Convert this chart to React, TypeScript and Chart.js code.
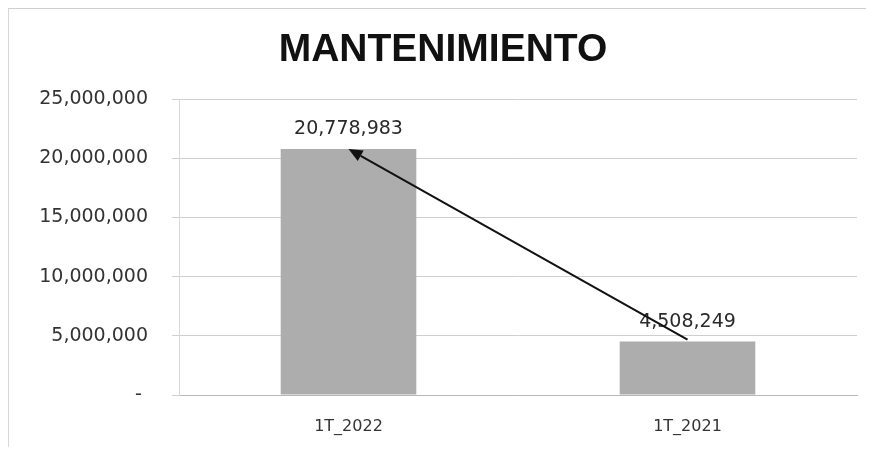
import React, { useEffect, useRef } from "react";
import { Chart, registerables } from "chart.js";

Chart.register(...registerables);

const categories = ["1T_2022", "1T_2021"];
const values = [20778983, 4508249];
const yMin = 0;
const yMax = 25000000;
const yStep = 5000000;
const titleText = "MANTENIMIENTO";

const fmt = (v: number) => v.toLocaleString("en-US");

const labelsAndArrow = {
  id: "labelsAndArrow",
  afterDatasetsDraw(chart: any) {
    const ctx = chart.ctx;
    const meta = chart.getDatasetMeta(0);
    ctx.save();
    // title
    ctx.font = "bold 39px 'Liberation Sans'";
    ctx.fillStyle = "#111";
    ctx.textAlign = "center";
    ctx.textBaseline = "middle";
    ctx.fillText(titleText, 434, 41);
    // data labels
    ctx.font = "19px 'DejaVu Sans'";
    ctx.fillStyle = "#2a2a2a";
    ctx.textAlign = "center";
    ctx.textBaseline = "bottom";
    meta.data.forEach((bar: any, i: number) => {
      ctx.fillText(fmt(values[i]), bar.x, bar.y - 10);
    });
    // arrow from second bar top to first bar top
    const a = meta.data[1];
    const b = meta.data[0];
    const x0 = a.x, y0 = a.y - 2;
    const x1 = b.x, y1 = b.y;
    const ang = Math.atan2(y1 - y0, x1 - x0);
    const len = 14, half = 6;
    const bx = x1 - len * Math.cos(ang);
    const by = y1 - len * Math.sin(ang);
    ctx.strokeStyle = "#111";
    ctx.fillStyle = "#111";
    ctx.lineWidth = 2;
    ctx.beginPath();
    ctx.moveTo(x0, y0);
    ctx.lineTo(bx, by);
    ctx.stroke();
    ctx.beginPath();
    ctx.moveTo(x1, y1);
    ctx.lineTo(bx + half * Math.sin(ang), by - half * Math.cos(ang));
    ctx.lineTo(bx - half * Math.sin(ang), by + half * Math.cos(ang));
    ctx.closePath();
    ctx.fill();
    ctx.restore();
  },
};

export default function App() {
  const ref = useRef<HTMLCanvasElement>(null);
  useEffect(() => {
    if (!ref.current) return;
    const chart = new Chart(ref.current, {
      type: "bar",
      data: {
        labels: categories,
        datasets: [
          {
            data: values,
            backgroundColor: "#adadad",
            borderWidth: 0,
            barPercentage: 0.4,
            categoryPercentage: 1,
          },
        ],
      },
      options: {
        animation: false,
        responsive: true,
        maintainAspectRatio: false,
        layout: { padding: { top: 90, right: 9, bottom: 0, left: 0 } },
        plugins: {
          legend: { display: false },
          tooltip: { enabled: false },
          title: { display: false },
        },
        scales: {
          x: {
            afterFit: (s: any) => {
              s.height = 52;
            },
            grid: { display: false },
            border: { display: true, color: "#b8b8b8", width: 1 },
            ticks: {
              color: "#333",
              font: { family: "'DejaVu Sans'", size: 16 },
              padding: 14,
            },
          },
          y: {
            min: yMin,
            max: yMax,
            afterFit: (s: any) => {
              s.width = 170;
            },
            ticks: {
              stepSize: yStep,
              color: "#333",
              font: { family: "'DejaVu Sans'", size: 19 },
              padding: 24,
              callback: (v: any) => (Number(v) === 0 ? "- " : fmt(Number(v))),
            },
            grid: { color: "#cfcfcf", tickLength: 7 },
            border: { display: true, color: "#d8d8d8" },
          },
        },
      },
      plugins: [labelsAndArrow],
    });
    return () => chart.destroy();
  }, []);
  return (
    <div
      style={{
        width: 858,
        height: 439,
        borderTop: "1px solid #cfcfcf",
        borderLeft: "1px solid #d8d8d8",
        boxSizing: "border-box",
        position: "relative",
      }}
    >
      <canvas ref={ref} />
    </div>
  );
}
